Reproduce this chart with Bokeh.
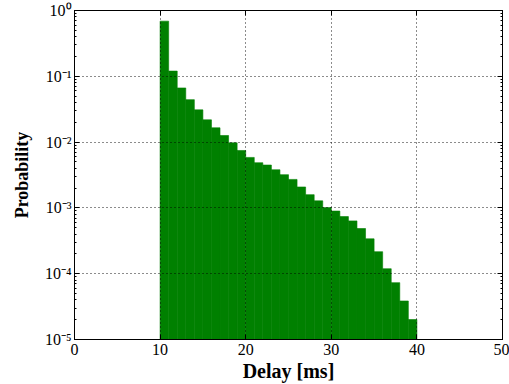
from bokeh.plotting import figure
from bokeh.models import LinearAxis, LogAxis, LogTicker, FixedTicker, CustomJSTickFormatter, Range1d
from bokeh.embed import file_html
from bokeh.resources import INLINE

# Histogram data: bin edges (ms) and probability per bin
bin_left = [10, 11, 12, 13, 14, 15, 16, 17, 18, 19,
            20, 21, 22, 23, 24, 25, 26, 27, 28, 29,
            30, 31, 32, 33, 34, 35, 36, 37, 38, 39]
bin_right = [11, 12, 13, 14, 15, 16, 17, 18, 19, 20,
             21, 22, 23, 24, 25, 26, 27, 28, 29, 30,
             31, 32, 33, 34, 35, 36, 37, 38, 39, 40]
probability = [0.689, 0.120, 0.0665, 0.0442, 0.0309, 0.0218, 0.0165, 0.0126, 0.00975, 0.00746,
               0.00585, 0.00486, 0.00448, 0.0038, 0.0032, 0.00271, 0.00208, 0.00159, 0.00128, 0.00101,
               0.000895, 0.000738, 0.000635, 0.000486, 0.000339, 0.000216, 0.000119, 0.0000731, 0.0000385, 0.0000201]
x_ticks = [0, 10, 20, 30, 40, 50]

FONT = "Liberation Serif"

p = figure(width=509, height=384, y_axis_type="log",
           x_range=Range1d(0, 50), y_range=Range1d(1e-5, 1),
           output_backend="svg", toolbar_location=None,
           min_border_left=74, min_border_right=7, min_border_top=10, min_border_bottom=43)

p.quad(left=bin_left, right=bin_right, top=probability, bottom=1e-7,
       fill_color="#008000", line_color="#008000", line_width=0.6, line_alpha=1.0)

sup_fmt = CustomJSTickFormatter(code="""
const e = Math.round(Math.log10(tick));
const sup = {"-": "\u207b", "0": "\u2070", "1": "\u00b9", "2": "\u00b2", "3": "\u00b3",
             "4": "\u2074", "5": "\u2075", "6": "\u2076", "7": "\u2077", "8": "\u2078", "9": "\u2079"};
return "10" + String(e).split("").map(c => sup[c]).join("");
""")
empty_fmt = CustomJSTickFormatter(code="return '';")

def style(ax, minor=True):
    ax.major_tick_in = 5
    ax.major_tick_out = 0
    ax.minor_tick_in = 2
    ax.minor_tick_out = 0
    ax.major_tick_line_color = "black"
    ax.axis_line_color = "black"
    ax.minor_tick_line_color = "black" if minor else None
    ax.major_label_text_font = FONT
    ax.major_label_text_font_size = "16px"
    ax.major_label_text_color = "black"
    ax.axis_label_text_font = FONT
    ax.axis_label_text_font_size = "20px"
    ax.axis_label_text_font_style = "bold"
    ax.axis_label_text_color = "black"

xa = p.xaxis[0]
xa.ticker = FixedTicker(ticks=x_ticks)
xa.axis_label = "Delay [ms]"
xa.major_label_standoff = 4
xa.axis_label_standoff = 2
style(xa, minor=False)

ya = p.yaxis[0]
ya.ticker = LogTicker(num_minor_ticks=10)
ya.formatter = sup_fmt
ya.axis_label = "Probability"
ya.major_label_standoff = 3
ya.axis_label_standoff = 10
style(ya)
ya.axis_label_text_font_size = "18px"

top = LinearAxis(ticker=FixedTicker(ticks=x_ticks), formatter=empty_fmt,
                 major_label_standoff=0)
style(top, minor=False)
p.add_layout(top, "above")

right = LogAxis(ticker=LogTicker(num_minor_ticks=10), formatter=empty_fmt,
                major_label_standoff=0)
style(right)
p.add_layout(right, "right")

p.xgrid.ticker = FixedTicker(ticks=x_ticks)
for g in (p.xgrid[0], p.ygrid[0]):
    g.grid_line_color = "black"
    g.grid_line_dash = "1 3"
    g.grid_line_width = 1
    g.grid_line_alpha = 0.9
    g.level = "overlay"
p.ygrid[0].minor_grid_line_color = None

p.outline_line_color = "black"
p.outline_line_width = 1
p.background_fill_color = "white"
p.border_fill_color = "white"

open("out.html", "w").write(file_html(p, INLINE))
